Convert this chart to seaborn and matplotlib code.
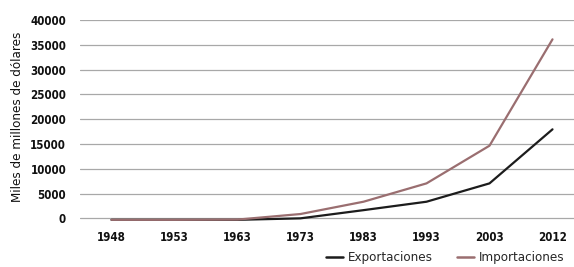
import matplotlib
matplotlib.use("Agg")
import matplotlib.pyplot as plt
import seaborn as sns
import pandas as pd

years = ["1948", "1953", "1963", "1973", "1983", "1993", "2003", "2012"]
exportaciones = [-300, -300, -300, 0, 1650, 3350, 7050, 17950]
importaciones = [-300, -300, -250, 870, 3350, 7050, 14650, 36100]
yticks = [0, 5000, 10000, 15000, 20000, 25000, 30000, 35000, 40000]

sns.set_theme(style="white")
plt.rcParams["font.family"] = ["DejaVu Sans"]
plt.rcParams["font.stretch"] = "condensed"

df = pd.DataFrame({
    "Año": years * 2,
    "Valor": exportaciones + importaciones,
    "Serie": ["Exportaciones"] * len(years) + ["Importaciones"] * len(years),
})

fig = plt.figure(figsize=(5.74, 2.67), dpi=100)
ax = fig.add_axes([80 / 574, 44.7 / 267, 504 / 574, (247 - 44.7) / 267])
sns.lineplot(data=df, x="Año", y="Valor", hue="Serie",
             palette={"Exportaciones": "#1c1c1c", "Importaciones": "#9a6e70"},
             linewidth=1.6, ax=ax, legend=False, sort=False)
ax.set_xlim(-0.5, 7.5)
ax.set_ylim(-800, 40000)
ax.set_yticks(yticks)
ax.set_yticklabels([str(v) for v in yticks])
ax.yaxis.grid(True, color="#a8a8a8", linewidth=0.9)
ax.set_axisbelow(True)
for s in ax.spines.values():
    s.set_visible(False)
ax.tick_params(axis="both", length=0, labelsize=8.3, colors="#111111", pad=6)
ax.tick_params(axis="y", pad=10)
for t in ax.get_xticklabels() + ax.get_yticklabels():
    t.set_fontweight("bold")
ax.set_xlabel("")
ax.set_ylabel("Miles de millones de dólares", fontsize=9.5, color="#111111")
ax.yaxis.set_label_coords(-0.112, 0.52)

from matplotlib.lines import Line2D
handles = [Line2D([], [], color="#1c1c1c", lw=1.8), Line2D([], [], color="#9a6e70", lw=1.8)]
fig.legend(handles, ["Exportaciones", "Importaciones"], loc="lower right",
           bbox_to_anchor=(1.005, -0.035), ncol=2, frameon=False, fontsize=9.5,
           handlelength=1.3, handletextpad=0.4, columnspacing=1.8)

fig.savefig("out.png", dpi=100)
